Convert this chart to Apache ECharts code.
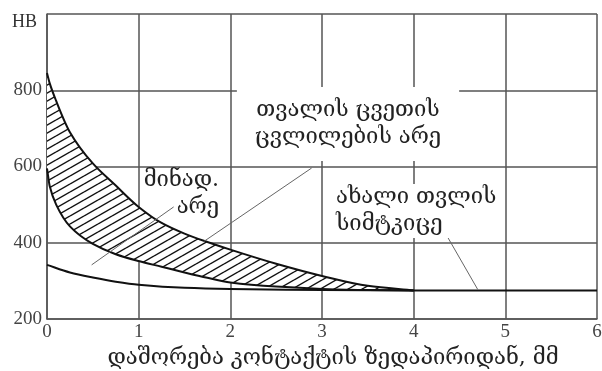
<!DOCTYPE html>
<html>
<head>
<meta charset="utf-8">
<script src="https://cdn.jsdelivr.net/npm/echarts@6/dist/echarts.min.js"></script>
<style>
  html, body { margin: 0; padding: 0; background: #fff; }
  #chart { width: 602px; height: 371px; }
</style>
</head>
<body>
<div id="chart"></div>
<script>
// Distance from the contact surface, mm (shared samples for the band edges)
const bandX = [0, 0.03, 0.1, 0.25, 0.5, 0.75, 1.0, 1.25, 1.5, 1.75, 2.0, 2.5, 3.0, 3.5, 4.0];
// Upper edge of the wear-hardness band, HB
const bandUpper = [845, 818, 772, 690, 608, 550, 494, 452, 424, 402, 382, 345, 313, 287, 275];
// Lower edge of the band, HB
const bandLower = [595, 548, 500, 443, 397, 370, 352, 337, 322, 308, 296, 285, 279, 276, 275];

// Hardness of a new wheel
const newX = [0, 0.25, 0.5, 0.75, 1, 1.5, 2, 3, 4, 5, 6];
const newHB = [342, 322, 309, 298, 290, 282, 279, 276, 275, 275, 275];

// Axis ticks
const xTicks = [0, 1, 2, 3, 4, 5, 6];
const yTicks = [200, 400, 600, 800, 1000];

// Leader lines, in data units: [from, to]
const leaders = [
  [[2.887, 596], [1.709, 403]],
  [[1.382, 494], [0.487, 342]],
  [[4.37, 415], [4.70, 277]]
];

const serif = '"Liberation Serif", "DejaVu Serif", serif';
const geo = '"DejaVu Serif", "DejaVu Sans", serif';

// Diagonal hatch tile for the band
function hatchTile() {
  const w = 14, h = 8;
  const c = document.createElement('canvas');
  c.width = w; c.height = h;
  const g = c.getContext('2d');
  g.fillStyle = '#fff';
  g.fillRect(0, 0, w, h);
  g.strokeStyle = '#111';
  g.lineWidth = 1.4;
  [[0, 0], [-w, 0], [w, 0], [0, -h], [0, h]].forEach(([dx, dy]) => {
    g.beginPath();
    g.moveTo(dx, h + dy);
    g.lineTo(w + dx, dy);
    g.stroke();
  });
  return c;
}
const hatch = { image: hatchTile(), repeat: 'repeat' };

// Monotone cubic (Fritsch–Carlson) bezier segments through pixel points
function segments(p) {
  const n = p.length, h = [], d = [], m = new Array(n);
  for (let i = 0; i < n - 1; i++) {
    h[i] = p[i + 1][0] - p[i][0];
    d[i] = (p[i + 1][1] - p[i][1]) / h[i];
  }
  m[0] = d[0];
  m[n - 1] = d[n - 2];
  for (let i = 1; i < n - 1; i++) {
    if (d[i - 1] * d[i] <= 0) { m[i] = 0; continue; }
    const w1 = 2 * h[i] + h[i - 1], w2 = h[i] + 2 * h[i - 1];
    m[i] = (w1 + w2) / (w1 / d[i - 1] + w2 / d[i]);
  }
  const segs = [];
  for (let i = 0; i < n - 1; i++) {
    segs.push({
      a: p[i],
      c1: [p[i][0] + h[i] / 3, p[i][1] + m[i] * h[i] / 3],
      c2: [p[i + 1][0] - h[i] / 3, p[i + 1][1] - m[i + 1] * h[i] / 3],
      b: p[i + 1]
    });
  }
  return segs;
}
const pt = q => q[0].toFixed(2) + ' ' + q[1].toFixed(2);
function forward(segs) {
  return segs.map(s => ` C ${pt(s.c1)} ${pt(s.c2)} ${pt(s.b)}`).join('');
}
function backward(segs) {
  return segs.slice().reverse().map(s => ` C ${pt(s.c2)} ${pt(s.c1)} ${pt(s.a)}`).join('');
}

function renderCurves(params, api) {
  const up = bandX.map((x, i) => api.coord([x, bandUpper[i]]));
  const lo = bandX.map((x, i) => api.coord([x, bandLower[i]]));
  const nw = newX.map((x, i) => api.coord([x, newHB[i]]));
  const su = segments(up), sl = segments(lo), sn = segments(nw);
  const band = 'M ' + pt(up[0]) + forward(su) + ' L ' + pt(lo[lo.length - 1]) + backward(sl) + ' Z';
  const stroke = { fill: null, stroke: '#111', lineWidth: 2, lineJoin: 'round' };
  return {
    type: 'group',
    children: [
      { type: 'path', shape: { pathData: band }, style: { fill: hatch, stroke: null } },
      { type: 'path', shape: { pathData: 'M ' + pt(up[0]) + forward(su) }, style: stroke },
      { type: 'path', shape: { pathData: 'M ' + pt(lo[0]) + forward(sl) }, style: stroke },
      { type: 'path', shape: { pathData: 'M ' + pt(nw[0]) + forward(sn) }, style: stroke }
    ]
  };
}

const chart = echarts.init(document.getElementById('chart'));

const gridLine = { color: '#555', width: 1.5 };

chart.setOption({
  animation: false,
  backgroundColor: '#fff',
  grid: { left: 47, right: 5, top: 14, bottom: 52, show: false, containLabel: false, outerBoundsMode: 'none' },
  xAxis: {
    type: 'value',
    min: xTicks[0], max: xTicks[xTicks.length - 1], interval: 1,
    name: 'დაშორება კონტაქტის ზედაპირიდან, მმ',
    nameLocation: 'middle', nameGap: 22,
    nameTextStyle: { fontFamily: geo, fontSize: 22, color: '#222', padding: [0, 0, 0, 22] },
    axisLine: { show: true, lineStyle: gridLine },
    axisTick: { show: false },
    axisLabel: { fontFamily: serif, fontSize: 19, color: '#444', margin: 4 },
    splitLine: { show: true, lineStyle: gridLine }
  },
  yAxis: {
    type: 'value',
    min: yTicks[0], max: yTicks[yTicks.length - 1], interval: 200,
    axisLine: { show: true, lineStyle: gridLine },
    axisTick: { show: false },
    axisLabel: {
      fontFamily: serif, fontSize: 19, color: '#444', margin: 5,
      formatter: v => (v === yTicks[yTicks.length - 1] ? '' : String(v))
    },
    splitLine: { show: true, lineStyle: gridLine }
  },
  series: [
    {
      type: 'custom', name: 'curves',
      coordinateSystem: 'cartesian2d',
      data: [[0, 0]],
      renderItem: renderCurves,
      silent: true, z: 2
    },
    {
      type: 'line', name: 'leaders', data: [], z: 4,
      markLine: {
        silent: true, symbol: 'none', animation: false,
        label: { show: false },
        lineStyle: { color: '#666', width: 1, type: 'solid' },
        data: leaders.map(([a, b]) => [{ coord: a }, { coord: b }])
      }
    }
  ],
  graphic: [
    {
      type: 'text', left: 12, top: 13,
      style: { text: 'HB', fontFamily: serif, fontSize: 18, fill: '#333' }
    },
    {
      type: 'text', x: 348, y: 124, z: 10,
      style: {
        text: 'თვალის ცვეთის\nცვლილების არე', fontFamily: geo, fontSize: 22,
        fill: '#222', align: 'center', verticalAlign: 'middle', lineHeight: 27,
        backgroundColor: '#fff', padding: [5, 18, 15, 18]
      }
    },
    {
      type: 'text', x: 219, y: 194, z: 10,
      style: {
        text: 'მინად.\nარე', fontFamily: geo, fontSize: 22,
        fill: '#222', align: 'right', verticalAlign: 'middle', lineHeight: 27
      }
    },
    {
      type: 'text', x: 333, y: 211, z: 10,
      style: {
        text: 'ახალი თვლის\nსიმტკიცე', fontFamily: geo, fontSize: 22,
        fill: '#222', align: 'left', verticalAlign: 'middle', lineHeight: 27,
        backgroundColor: '#fff', padding: [0, 3]
      }
    }
  ]
});
</script>
</body>
</html>
